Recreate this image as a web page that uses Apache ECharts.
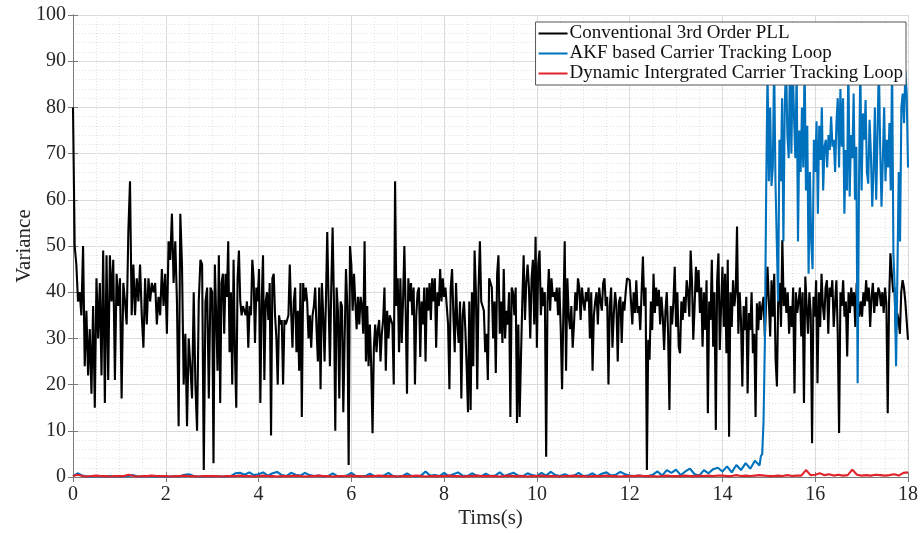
<!DOCTYPE html>
<html>
<head>
<meta charset="utf-8">
<script src="https://cdn.jsdelivr.net/npm/echarts@6/dist/echarts.min.js"></script>
<style>
  html, body { margin: 0; padding: 0; background: #ffffff; }
  #chart { width: 924px; height: 533px; }
</style>
</head>
<body>
<div id="chart"></div>
<script>
// Legend labels
const seriesNames = [
  'Conventional 3rd Order PLL',
  'AKF based Carrier Tracking Loop',
  'Dynamic Intergrated Carrier Tracking Loop'
];

// Axis ticks
const timeTicks = [0, 2, 4, 6, 8, 10, 12, 14, 16, 18];
const varianceTicks = [0, 10, 20, 30, 40, 50, 60, 70, 80, 90, 100];

// Conventional 3rd order PLL variance, one array per 3 s window
const pll0 = [80,50,46,38,40,35,50,24,36,22,32,18,37,15,43,30,42,22,49,16,48,21,48,38,47,21,44,37,43,17,
  42,38,33,53,64,35,46,35,43,38,46,35,28,43,33,43,38,42,40,42,33,39,35,45,37,44,31,51,47,57,
  42,51,38,11,57,46,20,31,11,30,24,17,40,20,10,38,47,46,1.5,38,41,17,41];
const pll1 = [40,3,46,35,23,48,16,42,44,31,44,39,51,27,40,20,47,27,15,43,49,38,35,37,36,35,38,28,37,35,
  47,43,29,41,38,45,16,38,48,21,38,40,34,42,9,43,44,35,30,20,35,33,34,20,34,33,34,35,46,36,
  28,38,41,27,36,23,42,13,42,38,41,38,30,35,28,35,37,41,32,25,41,19,42,35,25,38,53,38,24,41,
  54,38,10,41,36,17,38,37,14,30,45,37,2.6,50];
const pll2 = [46,36,44,38,32,39,33,39,37,31,51,25,37,24,33,24,9.5,28,33,27,32,34,25,31,34,41,23,36,30,35,
  34,33,20,64,37,43,27,43,29,38,50,36,18,43,38,42,35,41,20,35,40,41,26,38,33,41,25,41,36,42,
  34,43,38,43,28,40,37,45,38,43,39,41,37,33,19,41,45,35,27,42,33,29,38,17,35,38,32,24,14,38,
  14.5,40,24,49,40,19,41,51,38,37,36,27,31,21,43];
const pll3 = [43,41,30,38,22.5,44,48,31,38,29,45,30,36,33,40,13,41,40,35,41,11.7,33,13,26,38,48,34,42,46,41,
  30,43,47,33,52,28,46,49,35,41,37,40,4.4,38,45,36,43,39,40,38,41,35,41,32,19,36,51,23,43,35,
  32,37,28,33,40,36,43,41,34,41,38,36,40,38,41,30,40,23,35,38,40,33,41,38,36,42,43,37,39,20,
  37,41,28,35,40,37,25,38,39,29,38,36,40,43,43];
const pll4 = [42.6,38,33,40,35.5,42.6,35.5,37,31.8,40,47.7,37,41,1.5,29.7,25.4,38,31.8,44,35.5,
  41,37,40.5,33,39,34.7,27.5,36,40,31,14.5,37,33,38,45.5,32.5,40,28.2,26.8,38,
  34,39,35.5,42.6,40,34.7,49,42.6,29.7,37,45.5,40,44.8,35.5,41,28.2,40,31.8,42.6,13.8,
  38,34,47,28.2,40,10.2,42.6,48.4,27.5,37,45.5,32.5,44,26.8,47,8.7,40,32.5,42.6,37,
  40,54.2,31,40,34,19.6,37,31.8,39,18.1,35.5,31.8,40,26.8,31,13,37.6,31.8,38,34,
  37,39,30.4,38,45.5];
const pll5 = [45.5,30.4,42.6,34.7,44,25.4,19.6,40,42,32.5,51.3,37,41,35.5,40,31,37,32.5,41,18.1,
  40,35.5,38,41,30.4,40,16,43.4,37,31,40,35.5,7.3,39,34.7,42.6,20.3,40,32.5,44,
  37,34,41,42.6,31,41,39,42.6,32.5,37.6,42.6,31,9.5,40,37,42.6,34.7,38,26.1,40,
  35.5,41,37,40,32.5,42,38,34.7,38,34.7,40,37,42.6,38,41,32.5,39,42,35.5,40,
  37,41,40,37,40,35.5,41,37.6,13.8,38,48.4,44,40,41,31,35.5,34,31,40,42.6,
  41,38,38,29.7];

// AKF based loop: quiet phase, divergence, and unlocked phase
const akfQuiet = [
  0.2,0.8,0.3,0.1,0.1,0.2,0.1,0.1,0.2,0.1,
  0.1,0.1,0.2,0.4,0.1,0.1,0.2,0.1,0.1,0.1,
  0.1,0.1,0.2,0.1,0.5,0.6,0.2,0.1,0.1,0.2,
  0.1,0.2,0.1,0.1,0.2,0.8,0.9,0.5,1.0,0.4,
  0.6,1.0,0.3,0.8,1.1,0.4,0.2,0.9,0.5,0.3,
  0.9,0.4,0.2,0.3,0.1,0.2,0.8,0.2,0.1,0.3,
  0.9,0.2,0.1,0.2,0.7,0.2,0.1,0.3,0.9,0.2,
  0.1,0.2,0.8,0.2,0.1,0.3,1.2,0.3,0.4,0.2,
  0.9,0.2,0.6,1.0,0.3,0.2,0.8,0.3,0.2,0.7,
  0.2,0.3,1.0,0.2,0.6,0.9,0.3,0.2,0.8,0.4,
  0.2,0.9,0.3,1.1,0.4,0.2,0.6,0.2,0.3,0.9,
  0.2,0.3,0.8,0.2,0.7,1.0,0.3,0.5,1.1,0.6,
  0.3,0.2,0.3,0.2,0.2,0.5,1.2,0.3,1.5,0.9,
  1.6,0.4,1.2,1.8,0.6,0.3,1.5,0.8,1.7,2.0,
  1.2,2.3,1.0,2.6,1.5,3.0,1.8,3.5];
const akfRise = [2.5,4.5,5,12,29,62,88];
const akfUnlocked = [64,80,63,67,90,64,51,38,73,64,82,51,80,90,74,69,92,70,90,78,
  69,88,51,75,66,80,67,90,62,76,44,66,51,45,73,66,77,57,76,68.6,
  80,62,71.5,73,67,74,70.8,78,71.5,73,66,76.6,82,67,84,71.5,82,57,70.8,62,
  90,60.7,74,69,83,60,71.5,20.3,62,90,62,78.7,73,81.6,66,63.5,77.3,70,58.5,66,
  80,60,74,90,71.5,58.5,68.6,80,64,73,67,76.6,62,90,48.4,40.5,24,44,66,51,
  80,83,76.6,88,83,67];

// Dynamic integrated loop, 0.1 s samples
const dicl0 = [0.2,0.5,0.2,0.1,0.2,0.3,0.2,0.2,0.1,0.2,
  0.2,0.2,0.5,0.2,0.1,0.2,0.2,0.3,0.2,0.2,
  0.2,0.1,0.2,0.2,0.3,0.2,0.2,0.1,0.2,0.2,
  0.2,0.2,0.1,0.2,0.2,0.2,0.3,0.2,0.2,0.1,
  0.2,0.3,0.2,0.2,0.1,0.2,0.2,0.2,0.3,0.2,
  0.1,0.2,0.2,0.3,0.2,0.2,0.1,0.2,0.2,0.2,
  0.3,0.2,0.2,0.1,0.2,0.2,0.3,0.2,0.2,0.2,
  0.1,0.2,0.2,0.2,0.3,0.2,0.1,0.2,0.2,0.2,
  0.2,0.3,0.2,0.2,0.1,0.2,0.2,0.3,0.2,0.2];
const dicl1 = [0.2,0.2,0.1,0.2,0.3,0.2,0.2,0.2,0.1,0.2,
  0.2,0.3,0.2,0.2,0.2,0.1,0.2,0.2,0.3,0.2,
  0.2,0.1,0.2,0.2,0.2,0.3,0.2,0.2,0.1,0.2,
  0.2,0.2,0.3,0.2,0.2,0.2,0.1,0.2,0.3,0.2,
  0.2,0.2,0.3,0.2,0.2,0.3,0.2,0.3,0.2,0.3,
  0.3,0.2,0.2,0.4,0.2,0.3,0.2,0.3,0.4,0.3,
  0.2,0.2,0.3,0.2,0.4,0.2,0.3,0.3,1.5,0.4,
  0.5,0.8,0.4,0.6,0.3,0.5,0.3,0.4,1.6,0.5,
  0.3,0.4,0.3,0.5,0.4,0.3,0.4,0.6,0.3,0.9,1.0];

// Lay a run of evenly sampled values over [t0, t1]; closed runs include t1
function samples(values, t0, t1, closed) {
  const n = closed ? values.length - 1 : values.length;
  return values.map((v, i) => [t0 + (t1 - t0) * i / n, v]);
}

const pllData = [].concat(
  samples(pll0, 0, 3), samples(pll1, 3, 6), samples(pll2, 6, 9),
  samples(pll3, 9, 12), samples(pll4, 12, 15), samples(pll5, 15, 18, true)
);
const akfData = [].concat(
  samples(akfQuiet, 0, 14.8), samples(akfRise, 14.8, 15), samples(akfUnlocked, 15, 18, true)
);
const diclData = [].concat(samples(dicl0, 0, 9), samples(dicl1, 9, 18, true));

const serif = 'Liberation Serif, Times New Roman, serif';
const frameColor = '#7a7a7a';
const textColor = '#262626';

const chart = echarts.init(document.getElementById('chart'), null, { renderer: 'canvas' });

const hiddenAxis = {
  axisLine: { show: true, lineStyle: { color: frameColor, width: 1 } },
  axisTick: { show: true, inside: true, length: 5, lineStyle: { color: frameColor } },
  axisLabel: { show: false },
  splitLine: { show: false }
};

chart.setOption({
  animation: false,
  backgroundColor: '#ffffff',
  grid: { left: 73, right: 16, top: 15, bottom: 56, containLabel: false, outerBoundsMode: 'none' },
  legend: {
    data: seriesNames,
    orient: 'vertical',
    right: 18,
    top: 22,
    padding: [2, 3, 2, 3],
    itemGap: 1,
    icon: 'rect',
    itemWidth: 29,
    itemHeight: 2,
    backgroundColor: '#ffffff',
    borderColor: '#555555',
    borderWidth: 1,
    borderRadius: 0,
    textStyle: { fontFamily: serif, fontSize: 19, color: '#111111', padding: [0, 0, 0, -3], lineHeight: 19 }
  },
  xAxis: [
    {
      type: 'value', min: 0, max: 18, interval: 2,
      name: 'Tims(s)', nameLocation: 'middle', nameGap: 31, nameMoveOverlap: false,
      nameTextStyle: { fontFamily: serif, fontSize: 21, color: textColor },
      axisLine: { show: true, onZero: false, lineStyle: { color: frameColor, width: 1 } },
      axisTick: { show: true, inside: true, length: 5, lineStyle: { color: frameColor } },
      axisLabel: {
        fontFamily: serif, fontSize: 20, color: textColor, margin: 8,
        formatter: v => (timeTicks.indexOf(v) >= 0 ? String(v) : '')
      },
      splitLine: { show: true, lineStyle: { color: '#dcdcdc', width: 1 } },
      minorTick: { show: false, splitNumber: 4 },
      minorSplitLine: { show: true, lineStyle: { color: '#e2e2e2', type: [1, 2], width: 1 } }
    },
    Object.assign({ type: 'value', min: 0, max: 18, interval: 2, position: 'top' }, hiddenAxis)
  ],
  yAxis: [
    {
      type: 'value', min: 0, max: 100, interval: 10,
      name: 'Variance', nameLocation: 'middle', nameGap: 38, nameMoveOverlap: false,
      nameTextStyle: { fontFamily: serif, fontSize: 21, color: textColor },
      axisLine: { show: true, lineStyle: { color: frameColor, width: 1 } },
      axisTick: { show: true, inside: true, length: 5, lineStyle: { color: frameColor } },
      axisLabel: {
        fontFamily: serif, fontSize: 20, color: textColor, margin: 7,
        formatter: v => (varianceTicks.indexOf(v) >= 0 ? String(v) : '')
      },
      splitLine: { show: true, lineStyle: { color: '#dcdcdc', width: 1 } },
      minorTick: { show: false, splitNumber: 5 },
      minorSplitLine: { show: true, lineStyle: { color: '#e2e2e2', type: [1, 2], width: 1 } }
    },
    Object.assign({ type: 'value', min: 0, max: 100, interval: 10, position: 'right' }, hiddenAxis)
  ],
  series: [
    {
      name: seriesNames[0], type: 'line', data: pllData,
      symbol: 'none', clip: true,
      lineStyle: { color: '#000000', width: 2.1 },
      itemStyle: { color: '#000000' }
    },
    {
      name: seriesNames[1], type: 'line', data: akfData,
      symbol: 'none', clip: true,
      lineStyle: { color: '#0072BD', width: 2.1 },
      itemStyle: { color: '#0072BD' }
    },
    {
      name: seriesNames[2], type: 'line', data: diclData,
      symbol: 'none', clip: true,
      lineStyle: { color: '#e0232b', width: 2.1 },
      itemStyle: { color: '#e0232b' }
    }
  ]
});
</script>
</body>
</html>
